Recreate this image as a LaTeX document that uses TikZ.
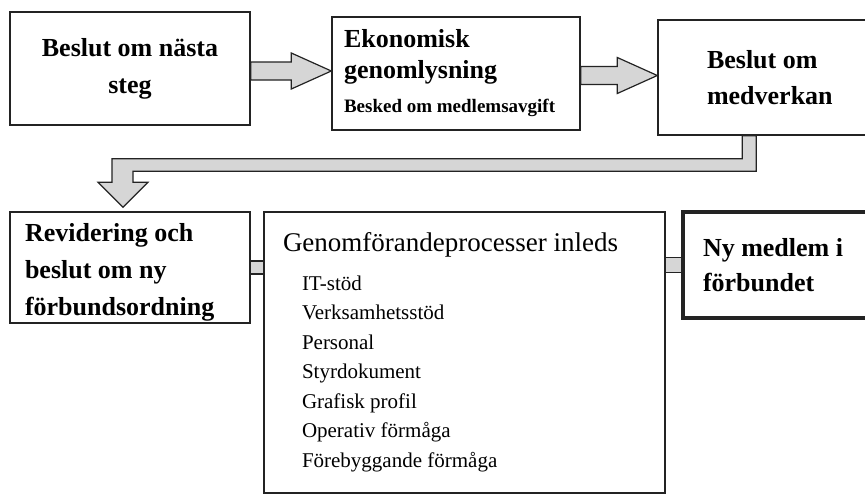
\documentclass[tikz,border=0pt]{standalone}
\usepackage{fontspec}
\setmainfont{Liberation Serif}
\usetikzlibrary{calc}
\definecolor{ink}{RGB}{35,35,35}
\definecolor{pale}{RGB}{214,214,214}
\tikzset{
  box/.style={draw=ink,line width=1.4pt,fill=white,inner sep=0pt,align=flush left,
    minimum height=113pt,font=\fontsize{26}{37}\selectfont\bfseries},
  fat/.style={draw=ink,line width=1.2pt,fill=pale,line join=miter},
  stub/.style={draw=ink,line width=1.2pt,fill=pale},
}
\newcommand{\fatarrow}[2]{%
  \coordinate (m) at ($(#1)!.5!(#2)$);
  \draw[fat] ($(#1 |- m)+(0,-9)$) -- ($(#2 |- m)+(-40,-9)$) -- ++(0,-9) -- (#2 |- m)
    -- ($(#2 |- m)+(-40,18)$) -- ++(0,-9) -- ($(#1 |- m)+(0,9)$) -- cycle;}
\newcommand{\proc}[1]{\hspace*{19pt}#1}

\begin{document}
\begin{tikzpicture}[x=1pt,y=-1pt]
  \useasboundingbox (0,0) rectangle (865,493);
  \fill[white] (0,0) rectangle (865,493);
  \clip (0,0) rectangle (865,493);
  % top row
  \node[box,align=center,minimum width=240pt] (b1) at (130,68.5) {Beslut om nästa\\steg};
  \node[box,minimum width=248pt,text width=224pt,font=\fontsize{26}{31}\selectfont\bfseries] (b2) at (456,73.5)
    {Ekonomisk\\genomlysning\\[3pt]{\fontsize{19}{22}\selectfont Besked om medlemsavgift}};
  \node[box,minimum width=240pt,minimum height=115pt,text width=142pt,font=\fontsize{26}{36}\selectfont\bfseries] (b3) at (778,77.5)
    {Beslut om\\medverkan};
  % bottom row
  \node[box,minimum width=240pt,minimum height=111pt,text width=210pt] (b4) at (130,267.5)
    {\rule{0pt}{28pt}Revidering och\\beslut om ny\\förbundsordning};
  \node[box,minimum width=401pt,minimum height=281pt,text width=363pt,font=\fontsize{21}{29.5}\selectfont] (b5) at (464.5,352.5)
    {{\fontsize{27}{30}\selectfont Genomförandeprocesser inleds}\\[9pt]
     \proc{IT-stöd}\\\proc{Verksamhetsstöd}\\\proc{Personal}\\\proc{Styrdokument}\\
     \proc{Grafisk profil}\\\proc{Operativ förmåga}\\\proc{Förebyggande förmåga}};
  \node[box,line width=3.5pt,minimum width=240pt,minimum height=106pt,text width=200pt,font=\fontsize{26}{35}\selectfont\bfseries] (b6) at (803,265)
    {Ny medlem i\\förbundet};
  % arrows
  \fatarrow{b1.east}{b2.west}
  \fatarrow{b2.east}{b3.west}
  \coordinate (tip) at ($(b4.north)+(-7,-4)$);
  \draw[fat] ($(b3.south west)+(85,0)$) -- ++(0,23) -| ($(tip)+(-11,-25)$) -- ++(-14,0) -- (tip)
    -- ++(25,-25) -- ++(-15,0) -- ++(0,-11) -| ($(b3.south west)+(99,0)$) -- cycle;
  \draw[stub] ($(b4.east)+(0,-6.5)$) rectangle ($(b5.west |- b4.east)+(0,6.5)$);
  \draw[stub] ($(b5.east |- b6.west)+(0,-7.5)$) rectangle ($(b6.west)+(0,7.5)$);
\end{tikzpicture}
\end{document}
